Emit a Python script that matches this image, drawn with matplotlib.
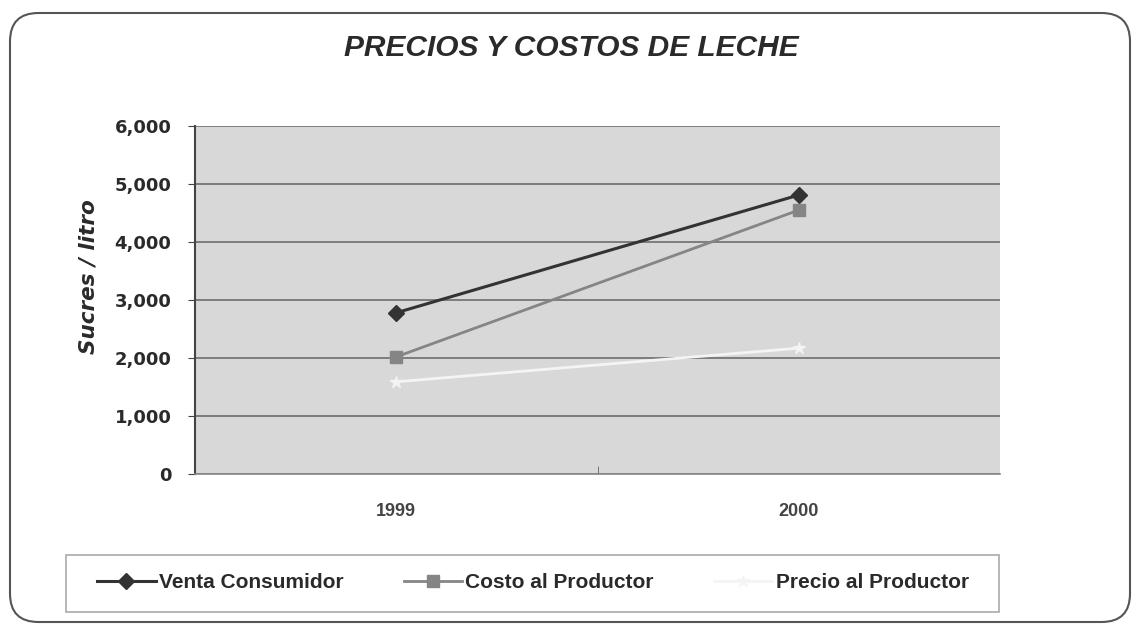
import matplotlib
matplotlib.use("Agg")
import matplotlib.pyplot as plt
from matplotlib.patches import FancyBboxPatch, Rectangle
from matplotlib.ticker import FuncFormatter, FixedLocator

years = ["1999", "2000"]
venta_consumidor = [2780, 4810]
costo_productor = [2020, 4550]
precio_productor = [1590, 2170]
series_names = ["Venta Consumidor", "Costo al Productor", "Precio al Productor"]

plt.rcParams['font.family'] = ['Liberation Sans', 'DejaVu Sans']

W, H = 1137, 630
fig = plt.figure(figsize=(W / 100, H / 100), dpi=100)
fig.patch.set_facecolor('white')

# rounded outer border
border = FancyBboxPatch((10 / W, 8 / H), 1120 / W, 609 / H,
                        boxstyle="round,pad=0,rounding_size=0.025",
                        transform=fig.transFigure, fill=False,
                        edgecolor='#555555', linewidth=1.5, mutation_aspect=W / H)
fig.patches.append(border)

ax = fig.add_axes([195 / W, 1 - 474 / H, 805 / W, 348 / H])
ax.set_facecolor('#d8d8d8')
x = list(range(len(years)))
ax.plot(x, venta_consumidor, color='#333333', lw=2.2, marker='D', ms=8, label=series_names[0], zorder=3)
ax.plot(x, costo_productor, color='#858585', lw=2.0, marker='s', ms=8, label=series_names[1], zorder=3)
ax.plot(x, precio_productor, color='#f4f4f4', lw=2.0, marker='*', ms=9, label=series_names[2], zorder=3)

ax.set_xlim(-0.5, 1.5)
ax.set_ylim(0, 6000)
ax.set_yticks(range(0, 6001, 1000))
ax.yaxis.set_major_formatter(FuncFormatter(lambda v, p: f"{int(v):,}"))
ax.grid(axis='y', color='#6e6e6e', lw=1.2)
ax.set_axisbelow(True)
ax.set_xticks(x)
ax.set_xticklabels(years)
ax.xaxis.set_minor_locator(FixedLocator([0.5]))
ax.tick_params(axis='x', which='major', length=0, pad=21, labelsize=13, labelcolor='#444444')
ax.tick_params(axis='x', which='minor', length=6, color='#666666', direction='in')
ax.tick_params(axis='y', length=5, color='#444444', labelsize=13, pad=12, labelcolor='#2a2a2a')
for lab in ax.get_yticklabels():
    lab.set_fontweight('bold')
    lab.set_family('DejaVu Sans')
for lab in ax.get_xticklabels():
    lab.set_fontweight('bold')
for s in ['top', 'right']:
    ax.spines[s].set_visible(False)
ax.spines['left'].set_color('#444444')
ax.spines['left'].set_linewidth(1.5)
ax.spines['bottom'].set_color('#888888')
ax.spines['bottom'].set_linewidth(1.2)

ax.set_ylabel("Sucres / litro", fontsize=15.5, fontweight='bold', style='italic',
              family='DejaVu Sans', color='#2a2a2a')
ax.yaxis.set_label_coords((98 - 195) / 805, (474 - 277) / 348)

fig.text(571 / W, 1 - 48 / H, "PRECIOS Y COSTOS DE LECHE", ha='center', va='center',
         fontsize=21.5, fontweight='bold', style='italic', color='#2a2a2a')

# legend box
fig.patches.append(Rectangle((66 / W, 1 - 612 / H), 933 / W, 57 / H,
                             transform=fig.transFigure, fill=True, facecolor='white',
                             edgecolor='#aaaaaa', lw=1.2, zorder=0))
leg = fig.legend(loc='center', bbox_to_anchor=(533 / W, 1 - 583 / H), ncol=3,
                 frameon=False, prop={'size': 15, 'weight': 'bold'}, handlelength=2.8,
                 handletextpad=0.15, columnspacing=2.9, borderpad=0)
for t in leg.get_texts():
    t.set_color('#2a2a2a')

fig.savefig("out.png", dpi=100)
